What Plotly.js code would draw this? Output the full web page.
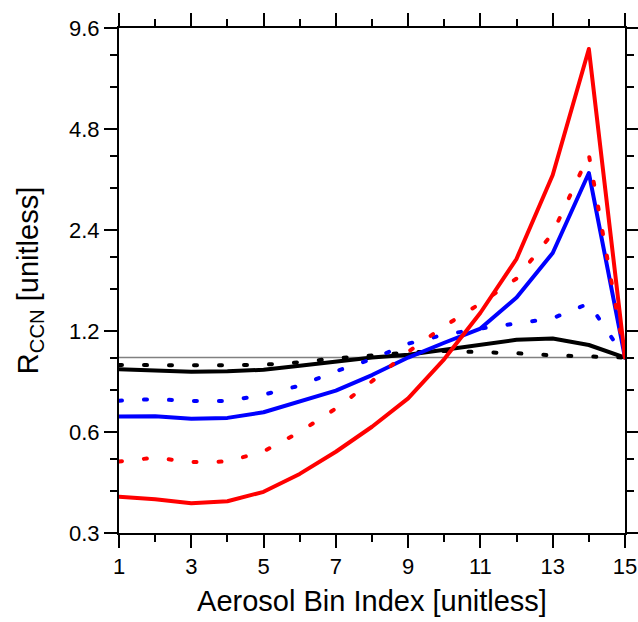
<!DOCTYPE html>
<html>
<head>
<meta charset="utf-8">
<script src="https://cdn.plot.ly/plotly-3.0.1.min.js"></script>
<style>
  html, body { margin: 0; padding: 0; background: #fff; }
  #chart { width: 638px; height: 622px; }
  #chart .js-line { stroke-linecap: round; stroke-linejoin: round; }
</style>
</head>
<body>
<div id="chart"></div>
<script>
const binIndex = [1, 2, 3, 4, 5, 6, 7, 8, 9, 10, 11, 12, 13, 14, 15];

const redSolid   = [0.385, 0.378, 0.368, 0.373, 0.398, 0.450, 0.524, 0.622, 0.756, 0.990, 1.36, 1.97, 3.50, 8.31, 1.0];
const redDot     = [0.490, 0.503, 0.488, 0.490, 0.525, 0.600, 0.705, 0.850, 1.040, 1.240, 1.45, 1.72, 2.35, 4.02, 1.0];
const blueSolid  = [0.667, 0.669, 0.657, 0.661, 0.687, 0.740, 0.797, 0.887, 1.000, 1.107, 1.22, 1.51, 2.05, 3.55, 1.0];
const blueDot    = [0.744, 0.752, 0.742, 0.742, 0.775, 0.825, 0.910, 0.990, 1.100, 1.170, 1.22, 1.26, 1.31, 1.45, 1.0];
const blackSolid = [0.923, 0.915, 0.908, 0.910, 0.920, 0.945, 0.975, 1.000, 1.020, 1.055, 1.09, 1.13, 1.14, 1.09, 1.0];
const blackDot   = [0.950, 0.950, 0.945, 0.948, 0.952, 0.968, 0.995, 1.015, 1.035, 1.046, 1.04, 1.03, 1.015, 1.005, 1.0];

const yTickVals = [0.3, 0.6, 1.2, 2.4, 4.8, 9.6];
const yTickText = ['0.3', '0.6', '1.2', '2.4', '4.8', '9.6'];
const yMinorVals = [0.4, 0.5, 0.8, 1.0, 1.6, 2.0, 3.2, 4.0, 6.4, 8.0];

const refValue = 1.0;

const dotDash = '3px,22px';
function tr(y, color, dash) {
  return {
    x: binIndex, y: y, type: 'scatter', mode: 'lines',
    line: { color: color, width: 4, dash: dash },
    hoverinfo: 'skip', showlegend: false
  };
}

const data = [
  tr(blackSolid, '#000000', 'solid'),
  tr(blackDot, '#000000', dotDash),
  tr(blueSolid, '#0000ff', 'solid'),
  tr(blueDot, '#0000ff', dotDash),
  tr(redSolid, '#ff0000', 'solid'),
  tr(redDot, '#ff0000', dotDash)
];

const font = "'Liberation Sans', Arial, Helvetica, sans-serif";

const layout = {
  width: 638, height: 622,
  margin: { l: 119, r: 13, t: 28, b: 89 },
  paper_bgcolor: '#ffffff', plot_bgcolor: '#ffffff',
  font: { family: font, color: '#000000', size: 22 },
  showlegend: false,
  xaxis: {
    range: [1, 15],
    tickmode: 'linear', tick0: 1, dtick: 2,
    ticks: 'outside', ticklen: 13, tickwidth: 2, tickcolor: '#000',
    minor: { dtick: 1, tick0: 1, ticks: 'outside', ticklen: 7, tickwidth: 2, tickcolor: '#000' },
    showline: true, linecolor: '#000', linewidth: 2, mirror: 'allticks',
    showgrid: false, zeroline: false,
    tickfont: { size: 22, family: font },
    title: { text: 'Aerosol Bin Index [unitless]', font: { size: 29, family: font }, standoff: 12 }
  },
  yaxis: {
    type: 'log',
    range: [Math.log10(0.3), Math.log10(9.6)],
    tickmode: 'array', tickvals: yTickVals, ticktext: yTickText,
    ticks: 'outside', ticklen: 13, tickwidth: 2, tickcolor: '#000',
    minor: { tickmode: 'array', tickvals: yMinorVals, ticks: 'outside', ticklen: 7, tickwidth: 2, tickcolor: '#000', showgrid: false },
    showline: true, linecolor: '#000', linewidth: 2, mirror: 'allticks',
    showgrid: false, zeroline: false,
    tickfont: { size: 22, family: font },
    title: { text: 'R<sub>CCN</sub> [unitless]', font: { size: 29, family: font }, standoff: 22 }
  },
  shapes: [{
    type: 'line', xref: 'paper', x0: 0, x1: 1, yref: 'y', y0: refValue, y1: refValue,
    line: { color: '#808080', width: 1.5 }, layer: 'below'
  }]
};

Plotly.newPlot('chart', data, layout, { displayModeBar: false, staticPlot: true });
</script>
</body>
</html>
